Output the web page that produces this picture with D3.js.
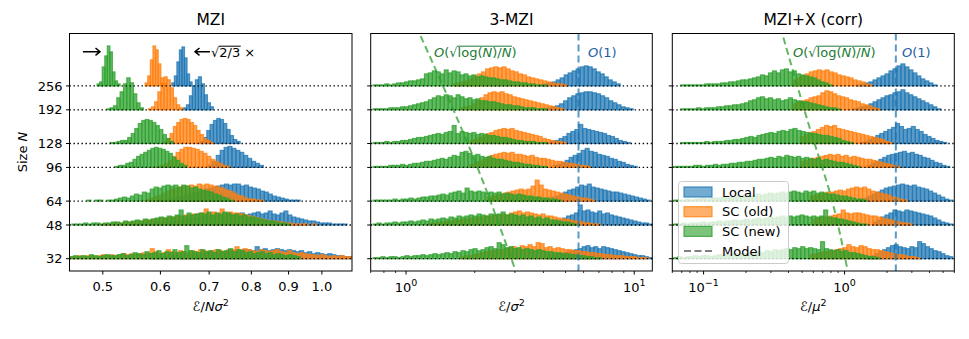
<!DOCTYPE html>
<html>
<head>
<meta charset="utf-8">
<script src="https://cdn.jsdelivr.net/npm/d3@7"></script>
<style>
  body { margin: 0; background: #fff; }
  text { font-family: "DejaVu Sans", sans-serif; fill: #000; }
</style>
</head>
<body>
<script>
// system sizes N, one histogram row per size
const sizes = [32, 48, 64, 96, 128, 192, 256];

// ---- MZI panel: bin range [lo, hi] (log spaced bins) and heights per row ----
const mziLocalRange = [[0.581, 1.1], [0.545, 1.083], [0.5932, 0.9336], [0.6984, 0.8311], [0.6803, 0.7721], [0.6453, 0.7095], [0.622, 0.6633]];
const mziLocalCounts = [
  [1,1,2,2,2,3,3,3,4,4,4,5,5,5,6,6,6,7,7,7,8,8,8,9,9,8,12,9,10,8,9,10,9,8,9,8,7,8,6,7,5,6,5,4,5,4,3,3,2,2],
  [1,1,1,2,2,2,3,3,3,4,4,5,5,5,6,6,7,7,8,8,9,9,10,9,10,11,10,11,12,10,11,12,13,11,12,14,11,10,12,14,10,8,7,6,5,4,4,3,2,2,2,1,1,1,1],
  [1,1,2,2,3,4,5,6,7,8,9,10,12,13,14,15,16,17,16,17,17,15,16,14,13,12,10,9,7,5,4,3,2,1,1,1],
  [2,6,12,17,20,21,19,17,15,12,9,6,4,2],
  [2,6,13,19,23,25,24,20,14,8,4,2],
  [2,5,14,24,30,33,26,15,7,3],
  [3,10,24,36,39,28,12,4]
];
const mziOldRange = [[0.45, 1.1], [0.4958, 0.9945], [0.5747, 0.8311], [0.5932, 0.748], [0.6057, 0.7095], [0.5776, 0.6441], [0.5716, 0.6109]];
const mziOldCounts = [
  [2,2,3,2,3,3,2,3,4,3,4,3,4,5,4,5,4,5,6,5,10,7,5,6,9,7,6,8,7,6,8,7,9,8,7,8,9,8,7,9,9,12,9,10,9,8,7,9,8,7,8,9,7,6,8,6,5,6,5,4,4,3,4,3,2,3,2,3,2,2],
  [1,1,1,2,2,2,3,3,3,4,4,5,5,6,6,7,7,8,8,9,9,10,10,11,11,12,16,12,13,12,16,12,13,12,12,11,10,9,8,7,6,5,4,4,3,3,2,2,1,1,1,1,0,1,0],
  [2,3,5,6,8,10,12,13,14,15,15,16,15,17,16,17,16,15,14,13,11,10,8,6,5,3,2,2,1,1],
  [1,2,4,7,11,15,18,20,20,19,18,16,14,11,8,6,4,2,1],
  [2,5,10,17,21,24,25,24,21,18,13,9,5,3,1],
  [1,3,8,18,27,33,30,22,12,5,2],
  [3,10,26,40,36,22,8,2]
];
const mziNewRange = [[0.45, 0.9336], [0.4533, 0.9054], [0.4698, 0.7552], [0.5198, 0.6522], [0.5117, 0.6252], [0.5064, 0.5686], [0.4911, 0.5281]];
const mziNewCounts = [
  [2,3,2,3,2,4,3,2,3,4,3,3,4,5,3,4,6,5,4,7,5,6,8,5,7,6,9,6,7,13,8,7,6,9,7,8,6,9,7,8,10,7,9,8,6,7,5,6,7,5,6,4,5,4,3,4,3,2],
  [1,1,1,2,1,2,2,1,2,2,3,3,2,4,3,4,5,4,6,5,6,7,8,7,9,8,10,15,9,12,10,11,12,11,13,10,12,11,13,12,10,11,9,10,8,8,7,6,5,4,4,3,2,2,1],
  [0,1,0,1,1,0,1,1,2,3,4,3,5,7,6,9,8,12,14,13,15,16,15,16,14,16,15,13,14,12,11,10,9,7,6,4,3,1],
  [1,2,2,4,5,8,11,13,15,17,19,20,19,18,16,14,10,7,4,2],
  [1,1,2,3,3,6,10,15,20,23,24,23,21,18,14,9,5,2],
  [1,2,4,12,18,26,32,27,16,7,2],
  [2,4,19,30,40,34,14,5,2]
];

// ---- 3-MZI panel ----
const mzi3LocalRange = [[4.153, 12], [4.153, 12], [3.87, 11.75], [4.413, 10.31], [4.153, 9.605], [3.99, 9.9], [3.87, 8.682]];
const mzi3LocalCounts = [
  [2,3,4,5,6,7,8,9,10,12,13,11,12,10,12,11,10,9,8,7,6,5,4,3,3,2,1],
  [1,2,3,5,7,9,10,12,20,14,15,13,12,14,11,12,10,9,8,7,6,5,4,3,2,2,1],
  [1,2,3,4,5,7,9,11,12,14,16,15,17,14,13,12,11,10,9,9,8,7,6,5,4,3,2,1],
  [2,3,5,7,10,12,14,17,19,16,15,13,12,11,9,8,6,5,3,2,1],
  [1,2,3,5,7,10,12,14,19,15,14,13,12,11,10,8,7,5,3,2,1],
  [1,2,3,4,6,9,12,14,16,17,18,18,17,16,14,12,9,7,5,3,2,1],
  [1,2,3,4,6,8,11,13,15,17,19,20,19,17,14,12,9,6,4,2]
];
const mzi3OldRange = [[1.725, 11.52], [1.236, 7.095], [2.266, 6.745], [1.909, 6.413], [1.909, 5.032], [1.725, 4.932], [1.607, 5.083]];
const mzi3OldCounts = [
  [2,3,3,4,5,6,7,8,8,9,9,10,11,12,10,13,12,14,12,16,15,11,12,10,11,10,9,9,8,8,7,7,6,6,5,5,4,4,3,3,3,2,2,2,1,1,1],
  [1,2,2,3,3,4,4,5,5,6,6,7,7,8,8,9,9,10,10,11,10,12,13,14,12,13,12,11,10,11,9,9,8,7,6,6,5,4,4,3,2,2,1,1],
  [4,5,6,7,8,9,10,11,12,11,12,15,21,16,12,11,10,9,8,7,6,5,4,3,3,2,1],
  [3,5,6,8,10,12,13,14,15,14,15,13,13,12,11,12,10,9,9,8,7,6,6,5,4,4,3,2,2,1],
  [3,4,6,8,10,11,13,14,15,14,15,13,12,11,10,9,8,7,5,4,3,2,2,1],
  [2,3,4,6,9,12,15,17,18,17,18,16,15,13,12,11,10,9,8,7,6,5,4,3,2,1],
  [2,3,4,5,7,10,12,14,17,18,19,18,19,17,15,14,12,11,9,8,7,6,5,4,3,2,2,1]
];
const mzi3NewRange = [[0.7165, 7.167], [0.7165, 5.623], [0.7165, 4.785], [0.7165, 4.153], [0.7165, 4.153], [0.7165, 4.153], [0.7165, 4.153]];
const mzi3NewCounts = [
  [1,1,2,1,2,2,1,2,3,2,3,3,4,3,4,5,4,5,6,5,7,6,8,7,9,10,8,9,11,12,10,16,14,11,12,10,11,9,10,9,8,9,8,7,7,6,6,5,5,4,4,3,3,2,2,1,1],
  [1,2,1,2,2,3,2,3,3,4,3,4,5,4,6,5,6,7,6,8,7,9,8,9,10,9,11,10,9,11,10,11,13,10,11,10,9,10,8,9,7,8,6,7,5,5,4,3,3,2,1],
  [1,1,1,1,1,2,1,2,2,3,2,3,4,4,5,5,6,7,6,8,9,10,8,13,10,9,10,9,8,9,8,9,7,8,7,6,7,6,5,5,4,4,3,3,2,2,1],
  [1,1,1,1,2,2,2,3,2,3,4,4,5,6,6,7,8,9,8,10,12,11,15,16,14,12,13,11,10,11,9,8,8,7,6,5,5,4,3,3,2,2,1,1],
  [1,1,1,2,1,2,2,3,3,4,5,6,6,7,8,9,10,9,11,12,18,10,12,11,10,11,9,10,9,8,8,7,6,6,5,4,3,3,2,2,2,1,1,1],
  [1,1,1,1,2,2,2,3,3,4,5,6,7,8,10,12,14,13,15,14,12,15,13,11,12,10,11,9,9,8,8,7,6,5,5,4,4,3,2,2,2,1,1,1],
  [1,1,1,2,1,2,3,3,4,5,5,6,7,12,13,15,14,12,16,13,15,14,11,12,10,11,9,10,9,8,8,7,6,6,5,4,4,3,3,2,2,1,1,1]
];

// ---- MZI+X (corr) panel ----
const corrLocalRange = [[1.444, 5.848], [1.59, 5.848], [1.289, 5.848], [1.444, 5.569], [1.289, 5.304], [1.15, 4.811], [1.227, 4.508]];
const corrLocalCounts = [
  [2,3,5,7,9,11,13,14,12,11,10,12,11,17,15,12,10,8,7,5,3,2],
  [3,5,8,10,12,15,14,13,15,14,13,12,11,10,9,7,5,3,2,1],
  [2,3,5,7,9,11,13,14,15,16,17,16,15,16,14,13,12,10,8,6,4,2,1],
  [2,4,6,8,10,12,13,14,15,16,14,15,13,12,10,9,7,5,4,2,1],
  [1,2,4,6,8,10,12,14,16,20,17,14,15,17,14,12,9,7,5,3,2,1],
  [1,2,3,4,6,8,10,12,14,15,17,18,20,17,15,13,11,9,7,5,3,1],
  [1,2,3,4,6,8,10,12,15,17,20,22,19,16,13,10,7,5,3,1]
];
const corrOldRange = [[0.5716, 3.42], [0.6003, 3.051], [0.5716, 2.768], [0.4859, 2.466], [0.4859, 2.204], [0.4335, 1.784], [0.4335, 1.587]];
const corrOldCounts = [
  [4,5,6,7,7,8,9,10,11,14,12,11,13,12,10,9,9,8,7,6,5,4,4,3,2,2,1],
  [6,7,8,8,9,10,11,15,12,11,12,12,11,10,9,9,8,7,6,5,4,3,2,2,1],
  [5,6,7,8,9,9,10,11,10,12,13,14,13,14,12,10,9,8,7,6,4,3,2,1],
  [6,7,8,9,10,11,12,13,12,13,11,12,10,11,10,9,8,8,7,6,5,4,3,2,1],
  [7,9,11,12,14,16,18,17,18,15,14,13,12,11,10,9,8,7,6,5,4,2,1],
  [6,8,9,10,12,13,14,17,19,18,16,14,13,12,10,9,8,6,5,4,2,1],
  [6,8,10,12,14,15,16,15,16,14,13,11,10,9,8,6,5,4,2,1]
];
const corrNewRange = [[0.0616, 1.784], [0.0616, 1.444], [0.0616, 1.444], [0.0616, 1.289], [0.069, 1.15], [0.069, 0.931], [0.069, 0.8173]];
const corrNewCounts = [
  [1,2,1,2,2,3,2,3,3,2,3,4,3,4,4,5,4,5,5,6,5,7,6,8,7,9,8,9,10,9,11,10,12,10,11,10,9,17,10,9,8,9,7,8,6,6,5,4,3,2,2,1],
  [1,1,2,1,2,2,2,3,2,3,3,4,3,4,4,5,4,5,6,5,6,7,6,7,8,7,8,9,8,9,8,9,10,9,8,9,8,9,15,8,7,6,6,5,4,3,2,1,1],
  [1,1,1,2,1,2,2,3,2,3,3,3,4,3,4,4,5,5,6,5,6,7,6,7,8,7,8,9,8,9,10,9,8,10,9,10,8,9,8,7,7,6,5,5,4,3,2,2,1],
  [1,1,1,1,1,2,2,1,2,2,3,2,3,3,4,4,5,5,6,6,7,8,8,9,10,9,11,10,12,11,10,11,9,10,9,8,9,7,8,7,6,5,5,4,3,2,1],
  [1,1,1,1,1,1,2,1,2,2,2,3,3,4,4,5,6,7,6,8,9,10,11,10,12,13,12,14,15,13,12,11,10,10,9,8,8,7,6,5,3,2,1],
  [1,1,1,1,2,1,2,2,2,3,3,4,4,5,5,6,7,9,10,12,13,11,12,10,11,9,10,12,10,9,8,8,7,6,5,4,3,2,2,1],
  [1,1,1,1,1,1,2,2,2,2,3,3,4,4,5,6,6,7,8,9,11,10,13,15,13,16,17,14,15,12,11,10,9,8,6,4,3,1]
];

// model curves
const modelOldN = [29.06, 93.2, 482.6];
const mzi3ModelX = [2.977, 2.076, 1.144];
const corrModelN = [29.06, 64.9, 150.8, 482.6];
const corrModelX = [1.038, 0.813, 0.5716, 0.3607];
const mzi3LocalModel = 5.70;
const corrLocalModel = 2.31;

const mziTicks = [0.5, 0.6, 0.7, 0.8, 0.9, 1.0];

// ---------------------------------------------------------------
var svgWidth = 969, svgHeight = 339;
var plotTop = 33.5, plotBottom = 271;
var unit = 1 / 57.6;   // histogram height unit, in doublings of N

var colors = { local: "#1f77b4", old: "#ff7f0e", new: "#2ca02c" };
var barAlpha = 0.74;

var svg = d3.select("body").append("svg")
  .attr("width", svgWidth)
  .attr("height", svgHeight);

var y = d3.scaleLog().base(2).domain([27.6, 481]).range([plotBottom, plotTop]);

var panels = [
  { id: "p1", title: "MZI", left: 69.5, right: 352, domain: [0.45, 1.1],
    series: [[mziLocalRange, mziLocalCounts, colors.local], [mziOldRange, mziOldCounts, colors.old], [mziNewRange, mziNewCounts, colors.new]] },
  { id: "p2", title: "3-MZI", left: 370.7, right: 652.3, domain: [0.7, 12],
    series: [[mzi3LocalRange, mzi3LocalCounts, colors.local], [mzi3OldRange, mzi3OldCounts, colors.old], [mzi3NewRange, mzi3NewCounts, colors.new]],
    modelN: modelOldN, modelX: mzi3ModelX, localX: mzi3LocalModel, annX: 434, oneX: 588 },
  { id: "p3", title: "MZI+X (corr)", left: 672.3, right: 954.3, domain: [0.06, 6],
    series: [[corrLocalRange, corrLocalCounts, colors.local], [corrOldRange, corrOldCounts, colors.old], [corrNewRange, corrNewCounts, colors.new]],
    modelN: corrModelN, modelX: corrModelX, localX: corrLocalModel, annX: 793, oneX: 902 }
];

var defs = svg.append("defs");

panels.forEach(function(p, pi) {
  var x = d3.scaleLog().domain(p.domain).range([p.left, p.right]);
  p.x = x;

  defs.append("clipPath").attr("id", "clip-" + p.id)
    .append("rect")
    .attr("x", p.left).attr("y", plotTop)
    .attr("width", p.right - p.left).attr("height", plotBottom - plotTop);

  var g = svg.append("g").attr("clip-path", "url(#clip-" + p.id + ")");

  sizes.forEach(function(N, ri) {
    p.series.forEach(function(s) {
      var range = s[0][ri], counts = s[1][ri];
      var lo = Math.log(range[0]), hi = Math.log(range[1]), n = counts.length;
      var bins = counts.map(function(c, i) {
        return { a: Math.exp(lo + (hi - lo) * i / n), b: Math.exp(lo + (hi - lo) * (i + 1) / n), c: c };
      }).filter(function(d) { return d.c > 0; });

      g.selectAll(null)
        .data(bins)
        .enter()
        .append("rect")
        .attr("x", function(d) { return x(d.a); })
        .attr("width", function(d) { return x(d.b) - x(d.a); })
        .attr("y", function(d) { return y(N * Math.pow(2, d.c * unit)); })
        .attr("height", function(d) { return y(N) - y(N * Math.pow(2, d.c * unit)); })
        .attr("fill", s[2]).attr("fill-opacity", barAlpha)
        .attr("stroke", s[2]).attr("stroke-opacity", barAlpha).attr("stroke-width", 1.2);
    });

    g.append("line")
      .attr("x1", p.left).attr("x2", p.right)
      .attr("y1", y(N)).attr("y2", y(N))
      .attr("stroke", "#000").attr("stroke-width", 1.3)
      .attr("stroke-dasharray", "1.4,2.6");
  });

  // model lines
  if (p.modelN) {
    var line = d3.line()
      .x(function(d) { return x(d[1]); })
      .y(function(d) { return y(d[0]); })
      .curve(d3.curveMonotoneY);
    g.append("path")
      .datum(d3.zip(p.modelN, p.modelX))
      .attr("d", line)
      .attr("fill", "none")
      .attr("stroke", colors.new).attr("stroke-opacity", 0.75)
      .attr("stroke-width", 2).attr("stroke-dasharray", "7,4");
    g.append("line")
      .attr("x1", x(p.localX)).attr("x2", x(p.localX))
      .attr("y1", plotTop).attr("y2", plotBottom)
      .attr("stroke", colors.local).attr("stroke-opacity", 0.75)
      .attr("stroke-width", 2).attr("stroke-dasharray", "7,4");
  }

  // frame
  svg.append("rect")
    .attr("x", p.left).attr("y", plotTop)
    .attr("width", p.right - p.left).attr("height", plotBottom - plotTop)
    .attr("fill", "none").attr("stroke", "#000").attr("stroke-width", 1);

  // y ticks
  svg.selectAll(null).data(sizes).enter().append("line")
    .attr("x1", p.left - 3.5).attr("x2", p.left)
    .attr("y1", function(d) { return y(d); }).attr("y2", function(d) { return y(d); })
    .attr("stroke", "#000").attr("stroke-width", 1);

  if (pi === 0) {
    svg.selectAll(null).data(sizes).enter().append("text")
      .attr("x", p.left - 7).attr("y", function(d) { return y(d) + 4.6; })
      .attr("text-anchor", "end").attr("font-size", 13)
      .text(function(d) { return d; });

    svg.selectAll(null).data(mziTicks).enter().append("line")
      .attr("x1", function(d) { return x(d); }).attr("x2", function(d) { return x(d); })
      .attr("y1", plotBottom).attr("y2", plotBottom + 3.5)
      .attr("stroke", "#000");
    svg.selectAll(null).data(mziTicks).enter().append("text")
      .attr("x", function(d) { return x(d); }).attr("y", 290.5)
      .attr("text-anchor", "middle").attr("font-size", 13)
      .text(function(d) { return d.toFixed(1); });
  } else {
    var majors = [], minors = [];
    for (var e = -2; e <= 1; e++) {
      for (var m = 1; m <= 9; m++) {
        var v = m * Math.pow(10, e);
        if (v < p.domain[0] * 0.999 || v > p.domain[1] * 1.001) continue;
        if (m === 1) majors.push(e); else minors.push(v);
      }
    }
    svg.selectAll(null).data(minors).enter().append("line")
      .attr("x1", function(d) { return x(d); }).attr("x2", function(d) { return x(d); })
      .attr("y1", plotBottom).attr("y2", plotBottom + 2)
      .attr("stroke", "#000").attr("stroke-width", 0.8);
    svg.selectAll(null).data(majors).enter().append("line")
      .attr("x1", function(d) { return x(Math.pow(10, d)); }).attr("x2", function(d) { return x(Math.pow(10, d)); })
      .attr("y1", plotBottom).attr("y2", plotBottom + 3.5)
      .attr("stroke", "#000");
    majors.forEach(function(ex) {
      var t = svg.append("text")
        .attr("x", x(Math.pow(10, ex))).attr("y", 291.5)
        .attr("text-anchor", "middle").attr("font-size", 13);
      t.append("tspan").text("10");
      t.append("tspan").attr("font-size", 9.5).attr("dy", -5.5).text(ex < 0 ? "\u2212" + (-ex) : ex);
    });
  }

  // title
  svg.append("text")
    .attr("x", (p.left + p.right) / 2).attr("y", 25)
    .attr("text-anchor", "middle").attr("font-size", 15.5)
    .text(p.title);
});

// x labels
function xLabel(cx, parts) {
  var t = svg.append("text").attr("x", cx).attr("y", 311).attr("text-anchor", "middle").attr("font-size", 13);
  parts.forEach(function(pt) {
    var s = t.append("tspan").text(pt[0]);
    if (pt[1] === "i") s.attr("font-style", "italic");
    if (pt[1] === "sup") s.attr("font-size", 9.5).attr("dy", -5.5);
  });
}
xLabel((panels[0].left + panels[0].right) / 2, [["\u2130/", ""], ["N\u03C3", "i"], ["2", "sup"]]);
xLabel((panels[1].left + panels[1].right) / 2, [["\u2130/", ""], ["\u03C3", "i"], ["2", "sup"]]);
xLabel((panels[2].left + panels[2].right) / 2, [["\u2130/", ""], ["\u03BC", "i"], ["2", "sup"]]);

// y label
var yl = svg.append("text")
  .attr("transform", "translate(27," + 152 + ") rotate(-90)")
  .attr("text-anchor", "middle").attr("font-size", 13);
yl.append("tspan").text("Size ");
yl.append("tspan").attr("font-style", "italic").text("N");

// MZI annotation: arrows and sqrt(2/3) x
svg.append("path")
  .attr("d", "M83,51.7 L100,51.7 M95.5,48 L100,51.7 L95.5,55.4")
  .attr("fill", "none").attr("stroke", "#000").attr("stroke-width", 1.5);
svg.append("path")
  .attr("d", "M210,51.7 L195,51.7 M199.5,48 L195,51.7 L199.5,55.4")
  .attr("fill", "none").attr("stroke", "#000").attr("stroke-width", 1.5);
var sq = svg.append("text").attr("x", 211).attr("y", 57).attr("font-size", 13).text("\u221A2/3 \u00D7");

function overline(textSel, i0, i1, color) {
  var node = textSel.node();
  var a = node.getStartPositionOfChar(i0).x;
  var b = node.getEndPositionOfChar(i1).x;
  var top = node.getBBox().y;
  svg.append("line")
    .attr("x1", a - 0.5).attr("x2", b + 0.5)
    .attr("y1", top + 1.2).attr("y2", top + 1.2)
    .attr("stroke", color).attr("stroke-width", 1);
}
overline(sq, 1, 3, "#000");

// O(...) annotations
panels.slice(1).forEach(function(p) {
  var t = svg.append("text").attr("x", p.annX).attr("y", 57).attr("font-size", 13)
    .style("fill", "#217a34");
  t.append("tspan").attr("font-style", "italic").text("O");
  t.append("tspan").text("(\u221Alog(");
  t.append("tspan").attr("font-style", "italic").text("N");
  t.append("tspan").text(")/");
  t.append("tspan").attr("font-style", "italic").text("N");
  t.append("tspan").text(")");
  overline(t, 3, 10, "#217a34");

  var o = svg.append("text").attr("x", p.oneX).attr("y", 57).attr("font-size", 13)
    .style("fill", "#1c5f9f");
  o.append("tspan").attr("font-style", "italic").text("O");
  o.append("tspan").text("(1)");
});

// legend
var legendItems = [
  { label: "Local", color: colors.local },
  { label: "SC (old)", color: colors.old },
  { label: "SC (new)", color: colors.new },
  { label: "Model", color: null }
];
var lg = svg.append("g");
lg.append("rect")
  .attr("x", 678.5).attr("y", 181.5).attr("width", 110).attr("height", 82).attr("rx", 3)
  .attr("fill", "#fff").attr("fill-opacity", 0.8)
  .attr("stroke", "#ccc").attr("stroke-width", 1);
legendItems.forEach(function(d, i) {
  var cy = 192 + i * 19.7;
  if (d.color) {
    lg.append("rect")
      .attr("x", 684).attr("y", cy - 5).attr("width", 28).attr("height", 10)
      .attr("fill", d.color).attr("fill-opacity", 0.62)
      .attr("stroke", d.color).attr("stroke-opacity", 0.8).attr("stroke-width", 1.2);
  } else {
    lg.append("line")
      .attr("x1", 684).attr("x2", 712).attr("y1", cy).attr("y2", cy)
      .attr("stroke", "#7f7f7f").attr("stroke-width", 2).attr("stroke-dasharray", "7,3.5");
  }
  lg.append("text").attr("x", 722).attr("y", cy + 4.6).attr("font-size", 13).text(d.label);
});
</script>
</body>
</html>
